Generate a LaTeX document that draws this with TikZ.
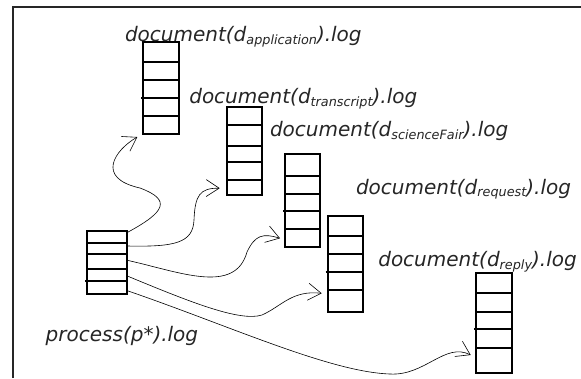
\documentclass[tikz,border=0pt]{standalone}
\usepackage{fontspec}
\setmainfont{DejaVu Sans}
\usetikzlibrary{arrows.meta,calc}
\newcommand\lsub[1]{\raisebox{-2.5pt}{\fontsize{12.8}{14}\selectfont #1}}
\begin{document}
\begin{tikzpicture}[x=1pt,y=-1pt,
  logbox/.style={draw, line width=1.8pt, inner sep=0pt, outer sep=0pt},
  divline/.style={line width=1.8pt},
  framel/.style={line width=1.3pt, black!85},
  lbl/.style={anchor=base west, inner sep=0pt, outer sep=0pt, text=black!85,
              font=\fontsize{20}{24}\selectfont\itshape},
  conn/.style={line width=0.6pt, -{Straight Barb[length=13pt,width=17pt]}}]
\useasboundingbox (0,0) rectangle (581,378);
\fill[white] (0,0) rectangle (581,378);
\draw[framel] (13,378) -- (13,7) -- (581,7);

% boxes
\node[logbox, minimum width=35.4pt, minimum height=92.3pt] (b1) at (161,87.85) {};
\node[logbox, minimum width=35.3pt, minimum height=87.4pt] (b2) at (244.35,151) {};
\node[logbox, minimum width=35.3pt, minimum height=92.4pt] (b3) at (302.65,200.5) {};
\node[logbox, minimum width=35.6pt, minimum height=96.3pt] (b4) at (345.5,263.85) {};
\node[logbox, minimum width=35.4pt, minimum height=99.7pt] (b5) at (494,322.85) {};
\node[logbox, minimum width=40pt, minimum height=63.6pt] (p) at (107.3,262.5) {};

% dividers
\foreach \yy in {62,80.3,116} \draw[divline] (b1.west |- 0,\yy) -- (b1.east |- 0,\yy);
\draw[divline] ($(b1.west |- 0,98.3)+(-2,0)$) -- (b1.east |- 0,98.3);
\foreach \yy in {124.7,145.7,162.3,180} \draw[divline] (b2.west |- 0,\yy) -- (b2.east |- 0,\yy);
\foreach \yy in {176,194.3,229.3} \draw[divline] (b3.west |- 0,\yy) -- (b3.east |- 0,\yy);
\draw[divline] ($(b3.west |- 0,211.3)+(-2,0)$) -- (b3.east |- 0,211.3);
\foreach \yy in {236,254,290.3} \draw[divline] (b4.west |- 0,\yy) -- (b4.east |- 0,\yy);
\draw[divline] ($(b4.west |- 0,272.3)+(-2,0)$) -- (b4.east |- 0,272.3);
\foreach \yy in {293.3,311.7,347.7} \draw[divline] (b5.west |- 0,\yy) -- (b5.east |- 0,\yy);
\draw[divline] ($(b5.west |- 0,329.3)+(-2,0)$) -- (b5.east |- 0,329.3);
\foreach \yy in {242.7,253.7,269} \draw[divline] (p.west |- 0,\yy) -- (p.east |- 0,\yy);
\draw[divline] ($(p.west |- 0,280.7)+(-2,0)$) -- (p.east |- 0,280.7);

% labels
\node[lbl] (t1) at (125,41.7) {document(d\lsub{application}).log};
\node[lbl] (t2) at (189.3,103.7) {document(d\lsub{transcript}).log};
\node[lbl] (t3) at (270,136.7) {document(d\lsub{scienceFair}).log};
\node[lbl] (t4) at (356,194.3) {document(d\lsub{request}).log};
\node[lbl] (t5) at (378.3,266.7) {document(d\lsub{reply}).log};
\node[lbl] (tp) at (45.7,341.5) {process(p*).log};

% connector endpoints
\coordinate (s1) at ($(p.north east)+(0.5,1.5)$);
\coordinate (s2) at ($(p.north east)+(0,15.3)$);
\coordinate (s3) at ($(p.north east)+(0,29.6)$);
\coordinate (s4) at ($(p.north east)+(0,45.3)$);
\coordinate (s5) at ($(p.north east)+(0,60)$);
\coordinate (e1) at ($(b1.south west)+(-6,3)$);
\coordinate (e2) at ($(b2.south west)+(-7,-6.5)$);
\coordinate (e3) at ($(b3.south west)+(-5,-8.4)$);
\coordinate (e4) at ($(b4.south west)+(-6,-18.7)$);
\coordinate (e5) at ($(b5.south west)+(-5.6,-17.7)$);

% connectors
\draw[conn] (s1) .. controls (165,212) and (172,200) .. (140,188)
                 .. controls (95,178) and (115,150) .. (e1);
\draw[conn] (s2) .. controls (175,247) and (193,243) .. (194,220)
                 .. controls (195,195) and (200,188) .. (e2);
\draw[conn] (s3) .. controls (180,272) and (235,295) .. (247,252)
                 .. controls (255,235) and (263,233) .. (e3);
\draw[conn] (s4) .. controls (190,302) and (240,322) .. (262,315)
                 .. controls (282,306) and (292,290) .. (e4);
\draw[conn] (s5) .. controls (230,326) and (330,372) .. (390,374)
                 .. controls (425,376) and (445,342) .. (e5);
\end{tikzpicture}
\end{document}
